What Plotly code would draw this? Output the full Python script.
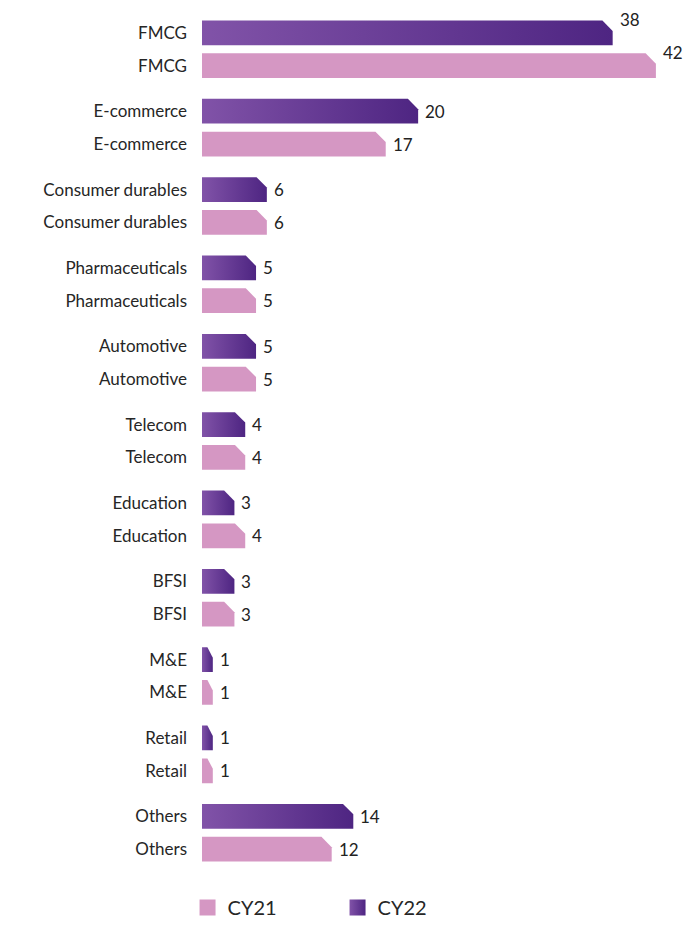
import plotly.graph_objects as go

categories = ["FMCG", "E-commerce", "Consumer durables", "Pharmaceuticals", "Automotive",
              "Telecom", "Education", "BFSI", "M&E", "Retail", "Others"]
cy22 = [38, 20, 6, 5, 5, 4, 3, 3, 1, 1, 14]
cy21 = [42, 17, 6, 5, 5, 4, 4, 3, 1, 1, 12]
series_names = ["CY21", "CY22"]

PINK = "#D597C3"
PURPLE_L = "#8153A8"
PURPLE_D = "#4E2582"
TXT = "#222222"

INNER = 0.419   # offset of CY21 row below CY22 row within a group
HH = 0.158      # half bar height (axis units)

fig = go.Figure()

def bar_poly(v, yc):
    top, bot = yc - HH, yc + HH
    c = min(0.95, 0.5 * v)
    xs = [0, v - c, v, v, 0, 0]
    ys = [top, top, top + 2 * HH * 0.42, bot, bot, top]
    return xs, ys

tickvals, ticktext = [], []
for i, cat in enumerate(categories):
    y22 = i
    y21 = i + INNER
    tickvals += [y22, y21]
    ticktext += [cat, cat]
    xs, ys = bar_poly(cy22[i], y22)
    fig.add_trace(go.Scatter(x=xs, y=ys, mode="none", fill="toself",
                             fillgradient=dict(type="horizontal",
                                               colorscale=[[0, PURPLE_L], [1, PURPLE_D]]),
                             showlegend=False, hoverinfo="skip"))
    xs, ys = bar_poly(cy21[i], y21)
    fig.add_trace(go.Scatter(x=xs, y=ys, mode="none", fill="toself", fillcolor=PINK,
                             showlegend=False, hoverinfo="skip"))
    for v, yc in ((cy22[i], y22), (cy21[i], y21)):
        fig.add_annotation(x=v, y=yc, text=str(v), showarrow=False, xanchor="left",
                           xshift=5, yshift=(13 if i == 0 else 0),
                           font=dict(family="Lato", size=17, color=TXT))

# legend entries
fig.add_trace(go.Scatter(x=[None], y=[None], mode="markers", name=series_names[0],
                         marker=dict(symbol="square", size=22, color=PINK)))
fig.add_trace(go.Scatter(x=[None], y=[None], mode="markers", name=series_names[1],
                         marker=dict(symbol="square", size=22, color=PURPLE_L,
                                     gradient=dict(type="horizontal", color=PURPLE_D))))

fig.update_layout(
    width=684, height=927,
    margin=dict(l=202, r=0, t=10, b=47),
    paper_bgcolor="white", plot_bgcolor="white",
    xaxis=dict(visible=False, range=[0, 44.6], fixedrange=True),
    yaxis=dict(range=[10.749, -0.292], tickvals=tickvals, ticktext=ticktext,
               showgrid=False, zeroline=False, showline=False, ticks="",
               ticklabelstandoff=14, fixedrange=True,
               tickfont=dict(family="Lato", size=17, color="#262626")),
    legend=dict(orientation="h", x=-0.03, xanchor="left", y=-0.038, yanchor="middle",
                font=dict(family="Lato", size=20, color="#262626"),
                entrywidth=105, itemsizing="trace"),
    showlegend=True,
)

fig.write_html("out.html", config={"displayModeBar": False},
               post_script="document.body.style.margin='0';document.body.style.overflow='hidden';")
